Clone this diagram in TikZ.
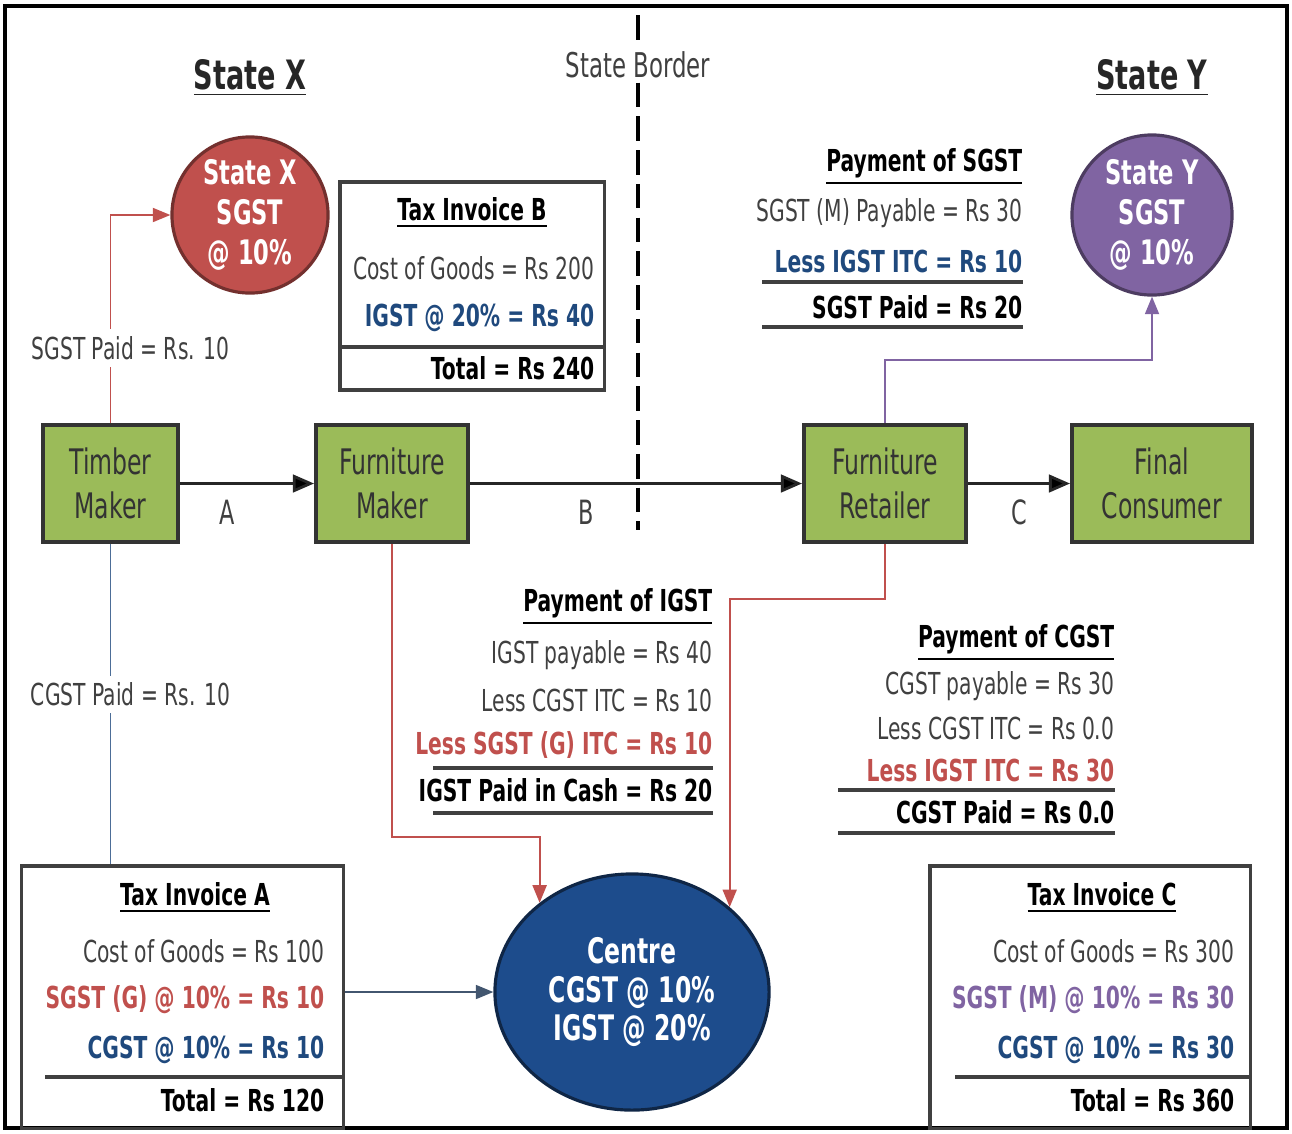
\documentclass[tikz,border=0pt]{standalone}
\usepackage{fontspec}
\setmainfont{DejaVu Sans}[FakeStretch=0.67]
\usetikzlibrary{shapes.geometric,arrows.meta,positioning}

\definecolor{leafgreen}{HTML}{9BBB59}
\definecolor{boxline}{HTML}{333333}
\definecolor{txtgray}{HTML}{404040}
\definecolor{sgstred}{HTML}{C0504D}
\definecolor{cgstblue}{HTML}{1F497D}
\definecolor{sgstpurple}{HTML}{8064A2}
\definecolor{centreblue}{HTML}{1D4C8C}

\begin{document}
\begin{tikzpicture}[x=0.01cm,y=-0.01cm,>={Triangle[length=6pt,width=5pt]},
  actor/.style={draw=boxline,line width=1.1pt,fill=leafgreen,text=black!80,
    minimum height=1.17cm,align=center,font=\fontsize{10}{12.3}\selectfont},
  govt/.style={circle,draw,line width=0.9pt,text=white,align=center,inner sep=0pt,
    font=\fontsize{9.6}{11.4}\selectfont\bfseries},
  invbox/.style={draw=txtgray,line width=0.9pt,minimum height=2.62cm},
  row/.style={anchor=east,inner sep=0pt,text=txtgray,font=\fontsize{8.6}{10}\selectfont},
  rowb/.style={row,font=\fontsize{8.6}{10}\selectfont\bfseries},
  head/.style={inner sep=0pt,text=black,font=\fontsize{8.6}{10}\selectfont\bfseries},
  state/.style={inner sep=0pt,text=black!85,font=\fontsize{11.5}{13}\selectfont\bfseries},
  rule/.style={draw=black!75,line width=1.3pt},
  flow/.style={draw=black!85,line width=0.8pt},
  tag/.style={text=txtgray,font=\fontsize{9.5}{11}\selectfont},
  paid/.style={fill=white,inner sep=2pt,text=txtgray,font=\fontsize{8.6}{10}\selectfont},
  sgstline/.style={draw=sgstred,line width=0.5pt,>={Triangle[length=5pt,width=4pt]}},
  cgstline/.style={draw=cgstblue!80,line width=0.5pt,>={Triangle[length=5pt,width=4pt]}},
  ystline/.style={draw=sgstpurple,line width=0.5pt,>={Triangle[length=5pt,width=4pt]}}]
  \useasboundingbox (0,0) rectangle (1292,1133);
  \draw[line width=1pt] (5,6) rectangle (1287,1128);

  % state border
  \draw[line width=1.3pt,dash pattern=on 7pt off 2.6pt] (638,15) -- (638,530);
  \node[fill=white,inner sep=1pt,text=txtgray,font=\fontsize{9.7}{11}\selectfont] (border) at (638,65) {State Border};
  \node[state] (stx) at (250,78) {\underline{State X}};
  \node[state] (sty) at (1152,78) {\underline{State Y}};

  % dealers
  \node[actor,minimum width=1.35cm] (tm) at (110.5,483.5) {Timber\\Maker};
  \node[actor,minimum width=1.52cm] (fm) at (392,483.5) {Furniture\\Maker};
  \node[actor,minimum width=1.62cm] (fr) at (885,483.5) {Furniture\\Retailer};
  \node[actor,minimum width=1.80cm] (fc) at (1162,483.5) {Final\\Consumer};

  % governments
  \node[govt,fill=sgstred,draw=sgstred!60!black,minimum size=1.56cm] (sx) at (250,215) {State X\\SGST\\@ 10\%};
  \node[govt,fill=sgstpurple,draw=sgstpurple!60!black,minimum size=1.6cm] (sy) at (1152,215) {State Y\\SGST\\@ 10\%};
  \node[govt,ellipse,fill=centreblue,draw=centreblue!50!black,minimum width=2.74cm,minimum height=2.36cm,
    font=\fontsize{10}{11}\selectfont\bfseries] (ctr) at (632,992) {Centre\\CGST @ 10\%\\IGST @ 20\%};

  % tax invoices
  \node[invbox,minimum width=2.64cm,minimum height=2.08cm] (ib) at (472,286) {};
  \draw[draw=txtgray,line width=0.9pt] (340,347) -- (604,347);
  \node[head] (ibt) at (472,213) {\underline{Tax Invoice B}};
  \node[row] (ib1) at (595,268) {Cost of Goods = Rs 200};
  \node[rowb,text=cgstblue] (ib2) at (595,318) {IGST @ 20\% = Rs 40};
  \node[rowb,text=black] (ib3) at (595,368) {Total = Rs 240};

  \node[invbox,minimum width=3.21cm] (ia) at (182.5,997) {};
  \node[head] (iat) at (195,898) {\underline{Tax Invoice A}};
  \node[row] (ia1) at (325,951) {Cost of Goods = Rs 100};
  \node[rowb,text=sgstred] (ia2) at (325,1000) {SGST (G) @ 10\% = Rs 10};
  \node[rowb,text=cgstblue] (ia3) at (325,1050) {CGST @ 10\% = Rs 10};
  \draw[rule] (45,1077) -- (343,1077);
  \node[rowb,text=black] (ia4) at (325,1100) {Total = Rs 120};

  \node[invbox,minimum width=3.20cm] (ic) at (1090,997) {};
  \node[head] (ict) at (1102,898) {\underline{Tax Invoice C}};
  \node[row] (ic1) at (1235,951) {Cost of Goods = Rs 300};
  \node[rowb,text=sgstpurple] (ic2) at (1235,1000) {SGST (M) @ 10\% = Rs 30};
  \node[rowb,text=cgstblue] (ic3) at (1235,1050) {CGST @ 10\% = Rs 30};
  \draw[rule] (955,1077) -- (1250,1077);
  \node[rowb,text=black] (ic4) at (1235,1100) {Total = Rs 360};

  % payments
  \node[head,anchor=east] (ps) at (1023,167) {\underline{Payment of SGST}};
  \node[row] (ps1) at (1023,213) {SGST (M) Payable = Rs 30};
  \node[rowb,text=cgstblue] (ps2) at (1023,261) {Less IGST ITC = Rs 10};
  \draw[rule] (762,282) -- (1023,282);
  \node[rowb,text=black] (ps3) at (1023,307) {SGST Paid = Rs 20};
  \draw[rule] (762,327) -- (1023,327);

  \node[head,anchor=east] (pi) at (713,607) {\underline{Payment of IGST}};
  \node[row] (pi1) at (713,655) {IGST payable = Rs 40};
  \node[row] (pi2) at (713,700) {Less CGST ITC = Rs 10};
  \node[rowb,text=sgstred] (pi3) at (713,745) {Less SGST (G) ITC = Rs 10};
  \draw[rule] (433,768) -- (713,768);
  \node[rowb,text=black] (pi4) at (713,790) {IGST Paid in Cash = Rs 20};
  \draw[rule] (433,813) -- (713,813);

  \node[head,anchor=east] (pc) at (1115,643) {\underline{Payment of CGST}};
  \node[row] (pc1) at (1115,686) {CGST payable = Rs 30};
  \node[row] (pc2) at (1115,728) {Less CGST ITC = Rs 0.0};
  \node[rowb,text=sgstred] (pc3) at (1115,770) {Less IGST ITC = Rs 30};
  \draw[rule] (838,790) -- (1115,790);
  \node[rowb,text=black] (pc4) at (1115,812) {CGST Paid = Rs 0.0};
  \draw[rule] (838,833) -- (1115,833);

  % supply chain
  \path[->,flow]
    (tm) edge node[pos=0.35,yshift=-0.29cm,tag] {A} (fm)
    (fm) edge node[pos=0.35,yshift=-0.29cm,tag] {B} (fr)
    (fr) edge node[pos=0.5,yshift=-0.29cm,tag] {C} (fc);

  % tax payments
  \draw[sgstline,->] (tm.north) |- (sx) node[pos=0.18,paid,xshift=0.2cm] {SGST Paid = Rs. 10};
  \draw[cgstline] (tm.south) -- (tm.south |- ia.north) node[pos=0.47,paid,xshift=0.2cm] {CGST Paid = Rs. 10};
  \draw[cgstline,draw=cgstblue!60!black!80,->] (ia.east |- ctr) -- (ctr.west);
  \draw[sgstline,->] (fm.south) -- ++(0,293) -| (ctr.136);
  \draw[sgstline,->] (fr.south) -- ++(0,55) -| (ctr.41);
  \draw[ystline,->] (fr.north) -- ++(0,-63) -| (sy);
\end{tikzpicture}
\end{document}
